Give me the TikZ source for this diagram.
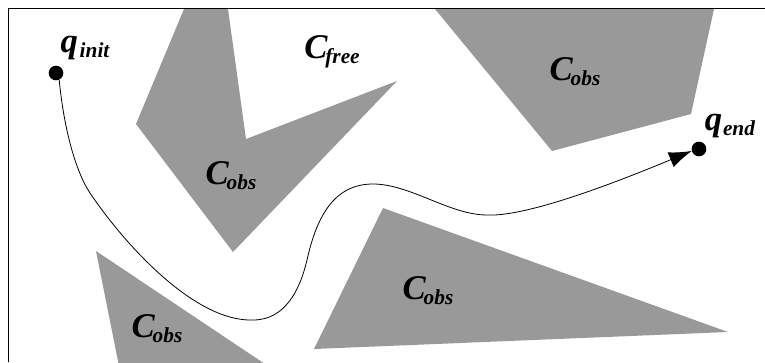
\documentclass[tikz,border=0pt]{standalone}
\usepackage{fontspec}
\setmainfont{Liberation Serif}
\usetikzlibrary{arrows.meta}
\newcommand{\conf}[3][-0.06em]{#2\kern#1\raisebox{-0.3ex}{\fontsize{16}{16}\selectfont #3}}

\begin{document}
\begin{tikzpicture}  % ------ Espace des configurations -------------------
      [x={(0.75pt,0)},y={(0,-0.75pt)},
       obs/.style={fill=black!40, draw=none},
       lbl/.style={font=\fontsize{26}{26}\selectfont\bfseries\itshape, inner sep=0pt},
       dot/.style={circle, fill=black, inner sep=0pt, minimum size=11pt},
       trajet/.style={line width=0.6pt, -{Latex[length=17pt,width=12pt]}}]

    \useasboundingbox (0,0) rectangle (765,362);

    \coordinate (A1) at (184,9);   % obstacle en fleche
    \coordinate (A2) at (228,9);
    \coordinate (A3) at (246,139);
    \coordinate (A4) at (397,81);
    \coordinate (A5) at (233,252);
    \coordinate (A6) at (136,124);
    \coordinate (B1) at (435,9);   % obstacle en haut a droite
    \coordinate (B2) at (714,9);
    \coordinate (B3) at (691,114);
    \coordinate (B4) at (552,151);
    \coordinate (T1) at (383,208); % grand triangle
    \coordinate (T2) at (728,332);
    \coordinate (T3) at (314,349);
    \coordinate (S1) at (96,251);  % petit triangle
    \coordinate (S2) at (119,366);
    \coordinate (S3) at (268,366);

    \fill[obs] (A1) -- (A2) -- (A3) -- (A4) -- (A5) -- (A6) -- cycle ;
    \fill[obs] (B1) -- (B2) -- (B3) -- (B4) -- cycle ;
    \fill[obs] (T1) -- (T2) -- (T3) -- cycle ;
    \fill[obs] (S1) -- (S2) -- (S3) -- cycle ;
    \draw[line width=0.75pt] (8,362) -- (8,8) -- (765,8) ;

    \node[dot] (qi) at (56,73) {} ;
    \node[dot] (qe) at (699,149) {} ;

    \draw[trajet] (qi.-65) .. controls (64,130) and (76,172) .. (90,193)
        .. controls (125,245) and (195,322) .. (253,320)
        .. controls (285,320) and (300,290) .. (307,260)
        .. controls (317,215) and (335,184) .. (373,184)
        .. controls (410,184) and (450,215) .. (487,215)
        .. controls (525,217) and (610,185) .. (qe.195) ;

    \node[lbl] (Linit) at (85,48) {\conf[0.05em]{q}{init}} ;
    \node[lbl] (Lend) at (730,126) {\conf[0.02em]{q}{end}} ;
    \node[lbl] (Lfree) at (332,52) {\conf{C}{free}} ;
    \node[lbl] (Lobs1) at (231,176) {\conf{C}{obs}} ;
    \node[lbl] (Lobs2) at (575,72) {\conf{C}{obs}} ;
    \node[lbl] (Lobs3) at (428,291) {\conf{C}{obs}} ;
    \node[lbl] (Lobs4) at (157,329) {\conf{C}{obs}} ;
\end{tikzpicture}
\end{document}
